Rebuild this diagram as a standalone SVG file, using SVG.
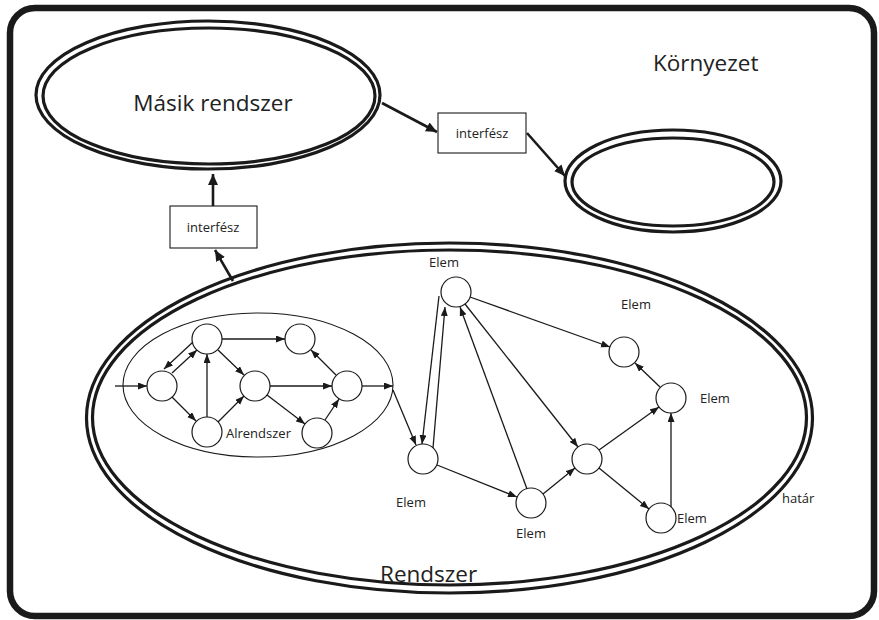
<svg xmlns="http://www.w3.org/2000/svg" width="879" height="620" viewBox="0 0 879 620">
  <style>
    .frame { fill: #fff; stroke: #1a1a1a; stroke-width: 6.5; }
    .dbl { fill: none; stroke: #1a1a1a; stroke-width: 3.2; }
    .thin { fill: none; stroke: #1a1a1a; stroke-width: 1.1; }
    .node { fill: #fff; stroke: #1a1a1a; stroke-width: 1.2; }
    .box { fill: #fff; stroke: #1a1a1a; stroke-width: 1.1; }
    .edge { fill: none; stroke: #1a1a1a; stroke-width: 1.3; marker-end: url(#ah); }
    .bold { fill: none; stroke: #1a1a1a; stroke-width: 2.6; marker-end: url(#ahb); }
    text { font-family: "Open Sans", "Noto Sans", "Liberation Sans", sans-serif; fill: #222; }
    .big { font-size: 22.5px; }
    .small { font-size: 13px; }
    .lbl { font-size: 13px; }
  </style>
  <defs>
    <marker id="ah" markerUnits="userSpaceOnUse" markerWidth="10" markerHeight="8" refX="9" refY="3.5" orient="auto">
      <path d="M0,0 L9,3.5 L0,7 z" fill="#1a1a1a"/>
    </marker>
    <marker id="ahb" markerUnits="userSpaceOnUse" markerWidth="13" markerHeight="11" refX="11" refY="5" orient="auto">
      <path d="M0,0 L11,5 L0,10 z" fill="#1a1a1a"/>
    </marker>
  </defs>

  <!-- environment frame -->
  <rect class="frame" x="10" y="8" width="864" height="608" rx="25" ry="25"/>
  <text class="big" x="653" y="71">Környezet</text>

  <!-- other system -->
  <g id="masik-rendszer">
    <ellipse class="dbl" cx="208" cy="95" rx="172" ry="74"/>
    <ellipse class="dbl" cx="209" cy="96" rx="166" ry="68"/>
    <text class="big" x="213" y="111" text-anchor="middle">Másik rendszer</text>
  </g>

  <!-- unnamed external system -->
  <g id="kulso-rendszer">
    <ellipse class="dbl" cx="673" cy="181" rx="108" ry="51"/>
    <ellipse class="dbl" cx="673" cy="182" rx="101" ry="44"/>
  </g>

  <!-- interfaces -->
  <g id="interfesz-felso">
    <rect class="box" x="438" y="113" width="88" height="40"/>
    <text class="small" x="482" y="138" text-anchor="middle">interfész</text>
  </g>
  <g id="interfesz-bal">
    <rect class="box" x="170" y="206" width="87" height="42"/>
    <text class="small" x="213" y="232" text-anchor="middle">interfész</text>
  </g>

  <!-- the system with its boundary -->
  <g id="rendszer">
    <ellipse class="dbl" cx="449.5" cy="418" rx="363" ry="175"/>
    <ellipse class="dbl" cx="449.5" cy="417.5" rx="357" ry="167.5"/>
    <text class="big" x="380" y="582">Rendszer</text>
    <text class="lbl" x="782" y="503">határ</text>
  </g>

  <!-- subsystem -->
  <g id="alrendszer">
    <ellipse class="thin" cx="258" cy="385" rx="135" ry="72"/>
    <text class="small" x="226" y="438">Alrendszer</text>
  </g>
  <g id="a1"><circle class="node" cx="162" cy="386" r="15"/></g>
  <g id="a2"><circle class="node" cx="207" cy="339" r="15"/></g>
  <g id="a3"><circle class="node" cx="207" cy="432" r="15"/></g>
  <g id="a4"><circle class="node" cx="255" cy="386" r="15"/></g>
  <g id="a5"><circle class="node" cx="300" cy="339" r="15"/></g>
  <g id="a6"><circle class="node" cx="347" cy="386" r="15"/></g>
  <g id="a7"><circle class="node" cx="317" cy="433" r="15"/></g>

  <!-- elements -->
  <g id="e1"><circle class="node" cx="423" cy="459" r="15"/><text class="lbl" x="411" y="507" text-anchor="middle">Elem</text></g>
  <g id="e2"><circle class="node" cx="531" cy="503" r="15"/><text class="lbl" x="531" y="538" text-anchor="middle">Elem</text></g>
  <g id="e3"><circle class="node" cx="587" cy="459" r="15"/></g>
  <g id="e4"><circle class="node" cx="661" cy="518" r="15"/><text class="lbl" x="677" y="523">Elem</text></g>
  <g id="e5"><circle class="node" cx="456" cy="292" r="15"/><text class="lbl" x="444" y="267" text-anchor="middle">Elem</text></g>
  <g id="e6"><circle class="node" cx="624" cy="352" r="15"/><text class="lbl" x="636" y="309" text-anchor="middle">Elem</text></g>
  <g id="e7"><circle class="node" cx="671" cy="398" r="15"/><text class="lbl" x="700" y="403">Elem</text></g>

  <!-- connectors -->
  <g id="connectors">
    <line class="bold" x1="382" y1="103" x2="437" y2="132"/>
    <line class="bold" x1="527" y1="133" x2="565" y2="176"/>
    <line class="bold" x1="213" y1="206" x2="213" y2="174"/>
    <line class="bold" x1="233" y1="281" x2="215" y2="250"/>

    <line class="edge" x1="115" y1="386" x2="147" y2="386"/>
    <line class="edge" x1="193" y1="342" x2="164" y2="369"/>
    <line class="edge" x1="172" y1="373" x2="197" y2="350"/>
    <line class="edge" x1="172" y1="397" x2="196" y2="421"/>
    <line class="edge" x1="207" y1="417" x2="207" y2="354"/>
    <line class="edge" x1="218" y1="422" x2="244" y2="396"/>
    <line class="edge" x1="218" y1="350" x2="244" y2="375"/>
    <line class="edge" x1="222" y1="339" x2="285" y2="339"/>
    <line class="edge" x1="270" y1="386" x2="332" y2="386"/>
    <line class="edge" x1="267" y1="395" x2="305" y2="424"/>
    <line class="edge" x1="325" y1="420" x2="339" y2="399"/>
    <line class="edge" x1="336" y1="375" x2="311" y2="350"/>
    <line class="edge" x1="362" y1="386" x2="393" y2="386"/>
    <line class="edge" x1="393" y1="390" x2="416" y2="445"/>

    <line class="edge" x1="439" y1="296" x2="422" y2="444"/>
    <line class="edge" x1="433" y1="448" x2="445" y2="307"/>
    <line class="edge" x1="527" y1="489" x2="460" y2="307"/>
    <line class="edge" x1="465" y1="304" x2="578" y2="447"/>
    <line class="edge" x1="470" y1="297" x2="610" y2="347"/>
    <line class="edge" x1="437" y1="465" x2="517" y2="497"/>
    <line class="edge" x1="543" y1="494" x2="575" y2="468"/>
    <line class="edge" x1="599" y1="450" x2="659" y2="407"/>
    <line class="edge" x1="599" y1="468" x2="649" y2="509"/>
    <line class="edge" x1="671" y1="507" x2="671" y2="413"/>
    <line class="edge" x1="660" y1="387" x2="635" y2="363"/>
  </g>
</svg>
